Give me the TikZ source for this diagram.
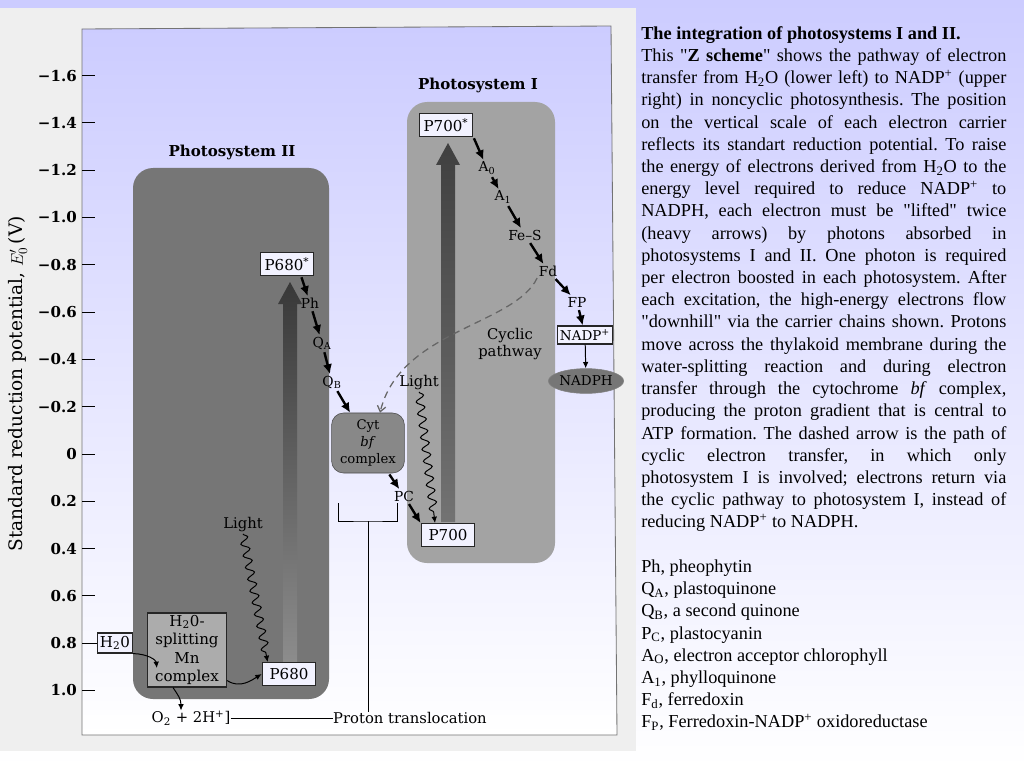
\documentclass[tikz,border=0pt]{standalone}
\usepackage{fontspec}
\setmainfont{Liberation Serif}
\newfontfamily\figfont{DejaVu Serif}
\usetikzlibrary{arrows.meta,calc,decorations.pathmorphing,shapes.geometric}
\definecolor{lav}{RGB}{204,204,255}
\definecolor{panel}{RGB}{239,239,239}
\definecolor{pstwo}{RGB}{118,118,118}
\definecolor{psone}{RGB}{163,163,163}
\definecolor{cytgray}{RGB}{136,136,136}
\definecolor{mngray}{RGB}{172,172,172}
\definecolor{boxfill}{RGB}{242,242,255}
\setlength{\parindent}{0pt}
\frenchspacing
\newcommand\qq{\textquotedbl}

\begin{document}
\begin{tikzpicture}[x=0.025cm,y=-0.025cm]
  \tikzset{
    lbox/.style={draw=black!85,fill=boxfill,line width=0.8pt,inner sep=0pt,
                 minimum width=1.34cm,minimum height=0.57cm,
                 font=\figfont\fontsize{10.7}{12}\selectfont},
    carr/.style={inner sep=1pt,font=\figfont\fontsize{9.8}{11}\selectfont},
    lab/.style={inner sep=1pt,align=center,font=\figfont\fontsize{10.5}{12.6}\selectfont},
    ttl/.style={font=\figfont\bfseries\fontsize{10.7}{12}\selectfont},
    tk/.style={anchor=east,inner sep=0pt,font=\figfont\bfseries\fontsize{10.7}{12}\selectfont},
    earr/.style={line width=1.7pt,-{Latex[length=7pt,width=6.5pt]},shorten <=1pt},
    tarr/.style={line width=0.7pt,-{Latex[length=4.5pt,width=4pt]}},
    wave/.style={line width=0.7pt,-{Latex[length=4.5pt,width=4pt]},decorate,
                 decoration={snake,amplitude=2.9pt,segment length=8.5pt,post length=5pt}},
    dsh/.style={draw=black!60,line width=0.9pt,dash pattern=on 5pt off 3.5pt,
                -{Straight Barb[length=4pt,width=6pt]}}
  }
  \useasboundingbox (0,0) rectangle (1024,768);
  \shade[top color=lav,bottom color=white] (0,0) rectangle (1024,768);
  \fill[panel] (0,8) rectangle (636,751);
  \shadedraw[top color=lav,bottom color=white,draw=black!55,line width=0.6pt]
    (82,29) -- (611,26) -- (617,735) -- (82,735) -- cycle;

  \foreach \v/\t [count=\i] in {-1.6/−1.6,-1.4/−1.4,-1.2/−1.2,-1.0/−1.0,-0.8/−0.8,
      -0.6/−0.6,-0.4/−0.4,-0.2/−0.2,0/0,0.2/0.2,0.4/0.4,0.6/0.6,0.8/0.8,1.0/1.0} {
    \draw[line width=0.6pt] (82,{454+236.5*(\v)}) -- (95,{454+236.5*(\v)});
    \node[tk] (tk\i) at (77,{454+236.5*(\v)}) {\t};
  }
  \node[rotate=90,font=\figfont\fontsize{13.2}{15}\selectfont] (ylab) at (18,384)
    {Standard reduction potential, $E'_0$\,(V)};

  \fill[pstwo,rounded corners=0.5cm] (133,168) rectangle (329,699);
  \fill[psone,rounded corners=0.5cm] (407,102) rectangle (555,563);
  \node[ttl] (pstwot) at (232,152) {Photosystem II};
  \node[ttl] (psonet) at (478,85) {Photosystem I};

  \shade[top color=black!78,bottom color=black!45]
    (283,662) -- (283,304) -- (278,304) -- (290,282) -- (302,304) -- (297,304) -- (297,662) -- cycle;
  \shade[top color=black!75,bottom color=black!55]
    (441,522) -- (441,165) -- (436,165) -- (448,143) -- (460,165) -- (455,165) -- (455,522) -- cycle;

  \node[lbox] (p680s) at (287,264) {P680\textsuperscript{*}};
  \node[carr] (ph) at (310,303) {Ph};
  \node[carr] (qa) at (322,343) {Q\textsubscript{A}};
  \node[carr] (qb) at (332,382) {Q\textsubscript{B}};
  \node[draw=black!70,fill=cytgray,rounded corners=0.3cm,minimum width=1.82cm,
        minimum height=1.5cm,align=center,inner sep=0pt,
        font=\figfont\fontsize{9.4}{12.4}\selectfont] (cyt) at (368,443) {Cyt\\\textit{bf}\\complex};
  \node[carr] (pc) at (404,496) {PC};
  \node[lbox] (p700) at (448,535) {P700};
  \node[lbox] (p700s) at (446,125) {P700\textsuperscript{*}};
  \node[carr] (a0) at (487,168) {A\textsubscript{0}};
  \node[carr] (a1) at (503,197) {A\textsubscript{1}};
  \node[carr] (fes) at (525,235) {Fe–S};
  \node[carr] (fd) at (548,271) {Fd};
  \node[carr] (fp) at (577,302) {FP};
  \node[lbox,minimum width=1.38cm,minimum height=0.45cm,
        font=\figfont\fontsize{9.6}{11}\selectfont] (nadp) at (585,335) {NADP\textsuperscript{+}};
  \node[ellipse,fill=pstwo,draw=black!50,minimum width=1.5cm,minimum height=0.62cm,
        inner sep=0pt,font=\figfont\fontsize{9.6}{11}\selectfont] (nadph) at (586,381) {NADPH};
  \node[lab] (cyc) at (510,344) {Cyclic\\pathway};
  \node[lab] (lt1) at (419,383) {Light};
  \node[lab] (lt2) at (243,525) {Light};
  \node[lbox] (p680) at (289,674) {P680};
  \node[draw=black!85,fill=mngray,line width=0.8pt,minimum width=1.98cm,minimum height=1.85cm,
        align=center,inner sep=0pt,font=\figfont\fontsize{10.7}{13.2}\selectfont]
        (mn) at (187,650) {H\textsubscript{2}0-\\splitting\\Mn\\complex};
  \node[lbox,minimum width=0.88cm,minimum height=0.5cm] (h2o) at (115,643) {H\textsubscript{2}0};
  \node[lab,inner sep=0pt] (o2) at (191,718) {O\textsubscript{2} + 2H\textsuperscript{+}]};
  \node[lab,inner sep=0pt] (prot) at (410,718) {Proton translocation};

  \draw[earr] ($(p680s.south)+(14,0)$) -- (ph);
  \draw[earr] (ph) -- (qa);
  \draw[earr] (qa) -- (qb);
  \draw[earr] (qb) -- (cyt);
  \draw[earr] (cyt) -- (pc);
  \draw[earr] (pc) -- (p700.north west);
  \draw[earr] (p700s.south east) -- (a0);
  \draw[earr] (a0) -- (a1);
  \draw[earr] (a1) -- (fes);
  \draw[earr] (fes) -- (fd);
  \draw[earr] (fd) -- (fp);
  \draw[earr] (fp) -- (nadp);
  \draw[tarr] (nadp) -- (nadph);
  \draw[dsh] (fd.south west) .. controls (515,325) and (400,330) .. ([xshift=0.3cm]cyt.north);
  \draw[wave] (lt1.south) -- ([xshift=-0.325cm]p700.north);
  \draw[wave] (lt2.south) -- ([xshift=0.15cm]p680.north west);
  \draw[line width=0.6pt] (82,643) -- (h2o.west);
  \draw[tarr] (h2o.south east) .. controls (148,654) and (156,660) .. ([shift={(0.25cm,-0.45cm)}]mn.west);
  \draw[tarr] ($(mn.south east)+(0,-7)$) .. controls (240,689) and (252,680) .. (p680.west);
  \draw[tarr] ($(mn.south)+(-14,0)$) .. controls (178,695) and (181,699) .. ($(o2.north)+(-10,0)$);
  \draw[line width=0.7pt] (o2.east) -- (prot.west);
  \coordinate (bl) at (338,503);
  \coordinate (br) at (397,503);
  \coordinate (bm) at (368,521);
  \draw[line width=0.7pt] (bl) |- (bm) -| (br);
  \draw[line width=0.7pt] (bm) -- (bm |- prot.north);

  \node[anchor=north west,inner sep=0pt,text width=9.125cm,align=justify,
        font=\fontsize{13}{15.8}\selectfont] (txt) at (641,26) {%
    \tolerance=10000 \hyphenpenalty=10000
    \spaceskip=0.25em plus 2em minus 0.08em \xspaceskip=\spaceskip
    \textbf{The integration of photosystems I and II.}\par
    This \qq\textbf{Z scheme}\qq{} shows the pathway of electron\linebreak
    transfer from H\textsubscript{2}O (lower left) to NADP\textsuperscript{+} (upper\linebreak
    right) in noncyclic photosynthesis. The position\linebreak
    on the vertical scale of each electron carrier\linebreak
    reflects its standart reduction potential. To raise\linebreak
    the energy of electrons derived from H\textsubscript{2}O to the\linebreak
    energy level required to reduce NADP\textsuperscript{+} to\linebreak
    NADPH, each electron must be \qq{}lifted\qq{} twice\linebreak
    (heavy arrows) by photons absorbed in\linebreak
    photosystems I and II. One photon is required\linebreak
    per electron boosted in each photosystem. After\linebreak
    each excitation, the high-energy electrons flow\linebreak
    \qq{}downhill\qq{} via the carrier chains shown. Protons\linebreak
    move across the thylakoid membrane during the\linebreak
    water-splitting reaction and during electron\linebreak
    transfer through the cytochrome \textit{bf} complex,\linebreak
    producing the proton gradient that is central to\linebreak
    ATP formation. The dashed arrow is the path of\linebreak
    cyclic electron transfer, in which only\linebreak
    photosystem I is involved; electrons return via\linebreak
    the cyclic pathway to photosystem I, instead of\linebreak
    reducing NADP\textsuperscript{+} to NADPH.\par
    \vspace{15.8pt}
    Ph, pheophytin\par
    Q\textsubscript{A}, plastoquinone\par
    Q\textsubscript{B}, a second quinone\par
    P\textsubscript{C}, plastocyanin\par
    A\textsubscript{O}, electron acceptor chlorophyll\par
    A\textsubscript{1}, phylloquinone\par
    F\textsubscript{d}, ferredoxin\par
    F\textsubscript{P}, Ferredoxin-NADP\textsuperscript{+} oxidoreductase\par};
\end{tikzpicture}
\end{document}
